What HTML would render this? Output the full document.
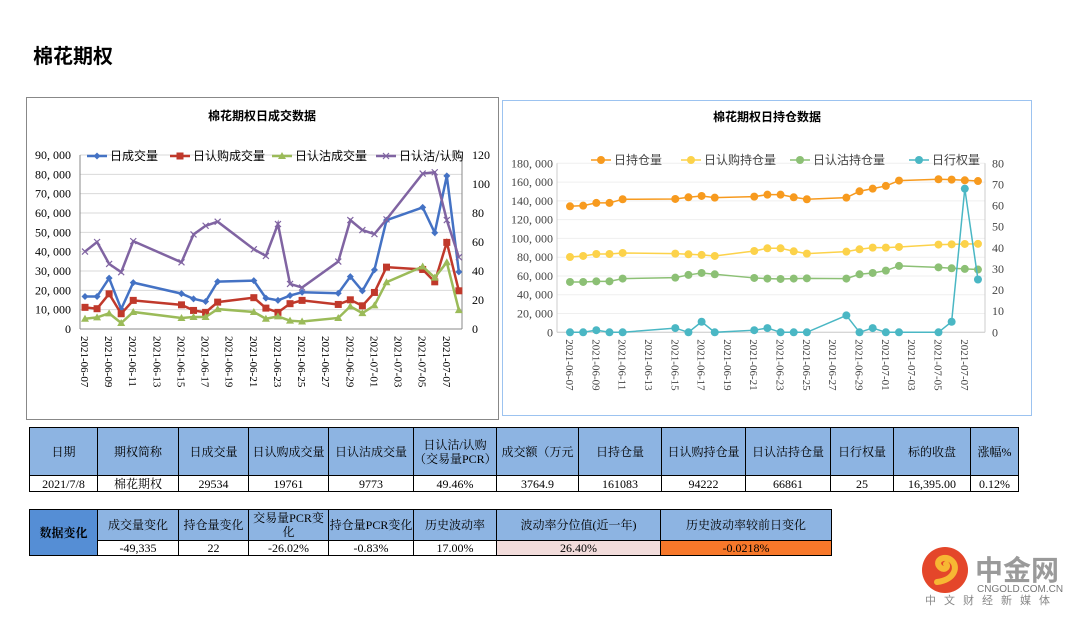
<!DOCTYPE html>
<html><head><meta charset="utf-8"><style>
body{margin:0;width:1080px;height:618px;background:#fff;position:relative;overflow:hidden;font-family:"Liberation Serif","Noto Serif CJK SC","Noto Sans CJK SC",serif;}
.t{position:absolute;border-collapse:collapse;font-size:12px;color:#000;table-layout:fixed}
.t td{border:1px solid #000;text-align:center;padding:0;line-height:14px;overflow:hidden;white-space:nowrap}
.h td{background:#8db4e2}
</style></head><body>
<div style="position:absolute;left:33px;top:40px;font:bold 20px 'Liberation Sans','Noto Sans CJK SC',sans-serif;">棉花期权</div>
<svg id="svg" width="1080" height="618" style="position:absolute;left:0;top:0" font-family="Liberation Serif, Noto Sans CJK SC, serif">
<rect x="26.5" y="97.5" width="472" height="322" fill="none" stroke="#888"/>
<rect x="502.5" y="100.5" width="529" height="315" fill="none" stroke="#9cc3f0"/>
<text x="262" y="120" font-size="12" font-weight="bold" text-anchor="middle" font-family="Noto Sans CJK SC, sans-serif">棉花期权日成交数据</text>
<text x="767" y="121" font-size="12" font-weight="bold" text-anchor="middle" font-family="Noto Sans CJK SC, sans-serif">棉花期权日持仓数据</text>
<g id="g1"></g><g id="g2"></g>
</svg>
<table class="t" style="left:29px;top:427px;width:989px">
<colgroup><col style="width:68px"><col style="width:81px"><col style="width:70px"><col style="width:80px"><col style="width:85px"><col style="width:83px"><col style="width:82px"><col style="width:83px"><col style="width:84px"><col style="width:85px"><col style="width:63px"><col style="width:77px"><col style="width:48px"></colgroup>
<tr class="h" style="height:48px"><td>日期</td><td>期权简称</td><td>日成交量</td><td>日认购成交量</td><td>日认沽成交量</td><td style="white-space:normal">日认沽/认购（交易量PCR）</td><td>成交额（万元</td><td>日持仓量</td><td>日认购持仓量</td><td>日认沽持仓量</td><td>日行权量</td><td>标的收盘</td><td>涨幅%</td></tr>
<tr style="height:16px"><td>2021/7/8</td><td>棉花期权</td><td>29534</td><td>19761</td><td>9773</td><td>49.46%</td><td>3764.9</td><td>161083</td><td>94222</td><td>66861</td><td>25</td><td>16,395.00</td><td>0.12%</td></tr>
</table>
<table class="t" style="left:29px;top:509px;width:802px">
<colgroup><col style="width:68px"><col style="width:81px"><col style="width:70px"><col style="width:80px"><col style="width:85px"><col style="width:83px"><col style="width:164px"><col style="width:171px"></colgroup>
<tr class="h" style="height:31px"><td rowspan="2" style="background:#558ed5;font-weight:bold">数据变化</td><td>成交量变化</td><td>持仓量变化</td><td style="white-space:normal">交易量PCR变化</td><td style="white-space:normal">持仓量PCR变化</td><td>历史波动率</td><td>波动率分位值(近一年)</td><td>历史波动率较前日变化</td></tr>
<tr style="height:15px"><td>-49,335</td><td>22</td><td>-26.02%</td><td>-0.83%</td><td>17.00%</td><td style="background:#f2dcdb">26.40%</td><td style="background:#f7782a">-0.0218%</td></tr>
</table>
<svg width="160" height="80" style="position:absolute;left:915px;top:538px">
<circle cx="30" cy="32" r="23" fill="#e4462a"/>
<path d="M22 44 C40 42 44 28 36 22 C28 16 18 24 26 30 C30 33 34 28 31 26" stroke="#f7b733" stroke-width="6" fill="none" stroke-linecap="round"/>
<text x="60" y="42" font-size="28" font-weight="bold" fill="#9a9a9a" font-family="Noto Sans CJK SC, sans-serif">中金网</text>
<text x="62" y="54" font-size="10" fill="#777" font-family="Liberation Sans, sans-serif">CNGOLD.COM.CN</text>
<text x="10" y="66" font-size="11" fill="#888" letter-spacing="8" font-family="Noto Sans CJK SC, sans-serif">中文财经新媒体</text>
</svg>
<script>
const ns="http://www.w3.org/2000/svg";
const dayOffsets1=[0,1,2,3,4,8,9,10,11,14,15,16,17,18,21,22,23,24,25,28,29,30,31];
const totalVol=[16800,16800,26300,10300,24000,18300,15600,14200,24500,25000,16000,14800,17300,19000,18500,27100,19700,30600,56300,62900,49800,79200,29534];
const callVol=[11200,10500,18200,7900,14800,12500,9600,8600,13900,16200,10800,8600,13100,14800,12700,15100,12000,18900,32000,30800,24400,44800,19761];
const putVol=[5300,6000,8100,3100,8800,5700,6200,6200,10300,8800,5300,6500,4300,3900,5700,11700,8200,12200,24200,32300,26600,34500,9773];
const pcr=[53.4,60,44.9,39.2,60.6,46,65.2,71.2,74,55,50.4,72.4,31.1,28.6,46.5,75.1,68.2,65.5,75.6,107.2,108.1,75.1,49.5];
const totalOI=[134200,134900,137800,137800,141700,142000,143800,145200,143400,144500,146600,146600,143800,141700,143400,150200,153000,155900,161600,163000,162600,161900,161083];
const callOI=[80200,81300,83400,83400,84500,83800,83100,82400,81300,86600,89500,89500,86300,83800,85900,88400,90200,90200,90900,93400,93700,94100,94222];
const putOI=[53600,53600,54300,54300,57200,58200,61100,63200,61800,57900,57200,56800,57200,57500,57200,61800,63200,65700,70700,69200,68200,67500,66861];
const exercised=[0,0,1,0,0,2,0,5,0,1,2,0,0,0,8,0,2,0,0,0,5,68,25];
const xLabels=["2021-06-07","2021-06-09","2021-06-11","2021-06-13","2021-06-15","2021-06-17","2021-06-19","2021-06-21","2021-06-23","2021-06-25","2021-06-27","2021-06-29","2021-07-01","2021-07-03","2021-07-05","2021-07-07"];
const leftTicks1=[0,10000,20000,30000,40000,50000,60000,70000,80000,90000];
const rightTicks1=[0,20,40,60,80,100,120];
const leftTicks2=[0,20000,40000,60000,80000,100000,120000,140000,160000,180000];
const rightTicks2=[0,10,20,30,40,50,60,70,80];
function el(p,t,a){const e=document.createElementNS(ns,t);for(const k in a)e.setAttribute(k,a[k]);p.appendChild(e);return e;}
function fmt(v){return v===0?"0":String(Math.floor(v/1000))+", "+String(v%1000).padStart(3,"0");}
function marker(g,type,x,y,c){
 if(type==="diamond")return el(g,"path",{d:`M${x} ${y-3.5}L${x+3.5} ${y}L${x} ${y+3.5}L${x-3.5} ${y}Z`,fill:c});
 if(type==="square")return el(g,"rect",{x:x-3.5,y:y-3.5,width:7,height:7,fill:c});
 if(type==="tri")return el(g,"path",{d:`M${x} ${y-4}L${x+4} ${y+3}L${x-4} ${y+3}Z`,fill:c});
 if(type==="x")return el(g,"path",{d:`M${x-3} ${y-3}L${x+3} ${y+3}M${x+3} ${y-3}L${x-3} ${y+3}`,stroke:c,"stroke-width":1.2});
 return el(g,"circle",{cx:x,cy:y,r:4,fill:c});
}
function chart(g,cfg){
 const X=d=>cfg.x0+d*cfg.dx, YL=v=>cfg.yb-(v/cfg.lmax)*(cfg.yb-cfg.yt), YR=v=>cfg.yb-(v/cfg.rmax)*(cfg.yb-cfg.yt);
 cfg.lt.forEach(v=>{const y=YL(v);
  const gl=el(g,"line",{x1:cfg.gx1,x2:cfg.gx2,y1:y,y2:y,stroke:cfg.grid});
  const t=el(g,"text",{x:cfg.lx,y:y+4,"font-size":12,"text-anchor":"end",fill:cfg.tc});t.textContent=fmt(v);});
 cfg.rt.forEach(v=>{const y=YR(v);const t=el(g,"text",{x:cfg.rx,y:y+4,"font-size":12,fill:cfg.tc});t.textContent=v;});
 el(g,"line",{x1:cfg.gx1,x2:cfg.gx1,y1:cfg.yt,y2:cfg.yb,stroke:cfg.axis});
 el(g,"line",{x1:cfg.gx2,x2:cfg.gx2,y1:cfg.yt,y2:cfg.yb,stroke:cfg.axis});
 el(g,"line",{x1:cfg.gx1,x2:cfg.gx2,y1:cfg.yb,y2:cfg.yb,stroke:cfg.axis});
 xLabels.forEach((s,i)=>{const x=X(i*2);const t=el(g,"text",{x:0,y:0,"font-size":11,fill:cfg.tc,transform:`translate(${x-4},${cfg.yb+7}) rotate(90)`});t.textContent=s;});
 cfg.series.forEach(s=>{
  const Y=s.right?YR:YL;
  const pts=s.data.map((v,i)=>[X(dayOffsets1[i]),Y(v)]);
  const p=el(g,"polyline",{points:pts.map(q=>q.join(",")).join(" "),fill:"none",stroke:s.c,"stroke-width":cfg.lw});
  
  pts.forEach(q=>{const m=marker(g,s.m,q[0],q[1],s.c);});
  el(g,"line",{x1:s.lg,x2:s.lg+20,y1:cfg.ly,y2:cfg.ly,stroke:s.c,"stroke-width":cfg.lw});
  marker(g,s.m,s.lg+10,cfg.ly,s.c);
  const t=el(g,"text",{x:s.lg+23,y:cfg.ly+4,"font-size":12,fill:cfg.tc,"font-family":"Noto Sans CJK SC, sans-serif"});t.textContent=s.label;
  
 });
}
chart(document.getElementById("g1"),{x0:85,dx:12.06,yt:155,yb:329,lmax:90000,rmax:120,gx1:80,gx2:462,lx:71,rx:472,lt:leftTicks1,rt:rightTicks1,grid:"#d9d9d9",axis:"#888",tc:"#000",lw:2.5,ly:156,
 series:[{name:"total-volume",label:"日成交量",data:totalVol,c:"#4472c4",m:"diamond",lg:87},
 {name:"call-volume",label:"日认购成交量",data:callVol,c:"#c0392b",m:"square",lg:170},
 {name:"put-volume",label:"日认沽成交量",data:putVol,c:"#9bbb59",m:"tri",lg:272},
 {name:"volume-pcr",label:"日认沽/认购",data:pcr,c:"#8064a2",m:"x",lg:376,right:true}]});
chart(document.getElementById("g2"),{x0:570,dx:13.16,yt:163.3,yb:332.3,lmax:180000,rmax:80,gx1:557,gx2:985,lx:553,rx:992,lt:leftTicks2,rt:rightTicks2,grid:"#efefef",axis:"#ccc",tc:"#444",lw:1.5,ly:160,
 series:[{name:"total-open-interest",label:"日持仓量",data:totalOI,c:"#f79a1e",m:"c",lg:591},
 {name:"call-open-interest",label:"日认购持仓量",data:callOI,c:"#fcd24a",m:"c",lg:681},
 {name:"put-open-interest",label:"日认沽持仓量",data:putOI,c:"#8cc075",m:"c",lg:790},
 {name:"exercised",label:"日行权量",data:exercised,c:"#4ab7c4",m:"c",lg:909,right:true}]});
</script>
</body></html>
